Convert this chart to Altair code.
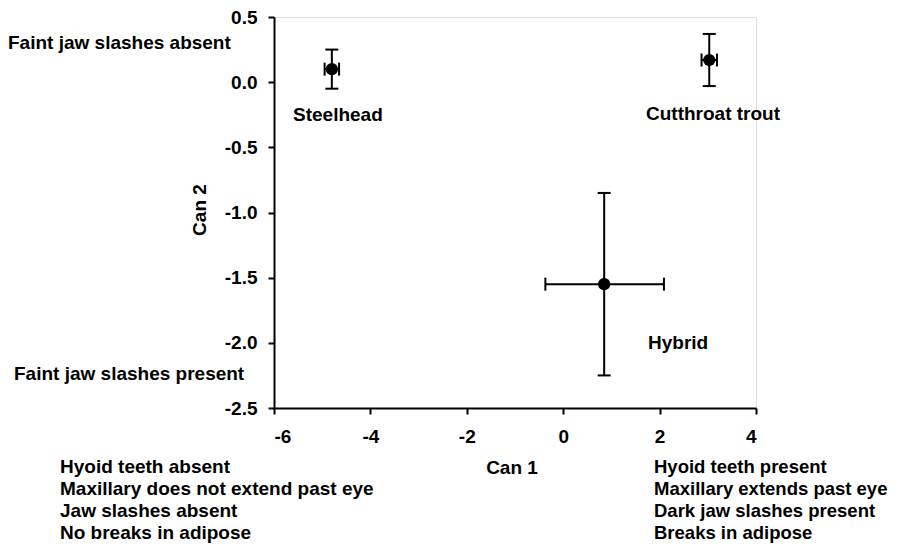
import altair as alt
import pandas as pd

# ---- data ----
groups = ["Steelhead", "Cutthroat trout", "Hybrid"]
can1_mean = [-4.80, 3.03, 0.85]
can1_lo = [-4.95, 2.87, -0.37]
can1_hi = [-4.65, 3.19, 2.09]
can2_mean = [0.10, 0.17, -1.55]
can2_lo = [-0.05, -0.03, -2.25]
can2_hi = [0.25, 0.37, -0.85]

x_ticks = [-6, -4, -2, 0, 2, 4]
y_ticks = [0.5, 0.0, -0.5, -1.0, -1.5, -2.0, -2.5]

left_notes = ["Hyoid teeth absent", "Maxillary does not extend past eye",
              "Jaw slashes absent", "No breaks in adipose"]
right_notes = ["Hyoid teeth present", "Maxillary extends past eye",
               "Dark jaw slashes present", "Breaks in adipose"]
top_note = "Faint jaw slashes absent"
bottom_note = "Faint jaw slashes present"

df = pd.DataFrame({
    "group": groups,
    "can1": can1_mean, "can1_lo": can1_lo, "can1_hi": can1_hi,
    "can2": can2_mean, "can2_lo": can2_lo, "can2_hi": can2_hi,
})

FONT = "Liberation Sans"
FS = 19
MINUS_FIX = "replace(datum.label, '\u2212', '-')"

xs = alt.Scale(domain=[-6, 4], nice=False, zero=False)
ys = alt.Scale(domain=[-2.5, 0.5], nice=False, zero=False)

xax = alt.Axis(values=x_ticks, format="d", labelExpr=MINUS_FIX, title=None, grid=False,
               domainColor="black", domainWidth=2, tickColor="black",
               tickWidth=2, tickSize=6, labelPadding=13, labelColor="black",
               labelFont=FONT, labelFontSize=FS, labelFontWeight="bold")
yax = alt.Axis(values=y_ticks, format=".1f", labelExpr=MINUS_FIX, title=None, grid=False,
               domainColor="black", domainWidth=2, tickColor="black",
               tickWidth=2, tickSize=6, labelPadding=11, labelColor="black",
               labelFont=FONT, labelFontSize=FS, labelFontWeight="bold")

base = alt.Chart(df)

points = base.mark_circle(size=150, color="black", opacity=1).encode(
    x=alt.X("can1:Q", scale=xs, axis=xax),
    y=alt.Y("can2:Q", scale=ys, axis=yax),
)
vbar = base.mark_rule(color="black", strokeWidth=2).encode(
    x=alt.X("can1:Q", scale=xs), y=alt.Y("can2_lo:Q", scale=ys), y2="can2_hi:Q")
hbar = base.mark_rule(color="black", strokeWidth=2).encode(
    y=alt.Y("can2:Q", scale=ys), x=alt.X("can1_lo:Q", scale=xs), x2="can1_hi:Q")
cap_lo = base.mark_tick(orient="horizontal", color="black", thickness=2, size=13, opacity=1).encode(
    x=alt.X("can1:Q", scale=xs), y=alt.Y("can2_lo:Q", scale=ys))
cap_hi = base.mark_tick(orient="horizontal", color="black", thickness=2, size=13, opacity=1).encode(
    x=alt.X("can1:Q", scale=xs), y=alt.Y("can2_hi:Q", scale=ys))
cap_l = base.mark_tick(orient="vertical", color="black", thickness=2, size=13, opacity=1).encode(
    x=alt.X("can1_lo:Q", scale=xs), y=alt.Y("can2:Q", scale=ys))
cap_r = base.mark_tick(orient="vertical", color="black", thickness=2, size=13, opacity=1).encode(
    x=alt.X("can1_hi:Q", scale=xs), y=alt.Y("can2:Q", scale=ys))

def txt(text, x, y, align="left", angle=0, baseline="alphabetic", lh=22, fs=FS):
    kw = dict(font=FONT, fontSize=fs, fontWeight="bold", color="black",
              align=align, baseline=baseline, lineHeight=lh)
    if angle:
        kw["angle"] = angle
    return alt.Chart(df).transform_filter("datum.group == 'Hybrid'").mark_text(**kw).encode(
        x=alt.value(x), y=alt.value(y), text=alt.value(text))

labels = [
    txt(groups[0], 19, 104),
    txt(groups[1], 372, 103),
    txt(groups[2], 374, 332),
    txt(top_note, -266, 32),
    txt(bottom_note, -260, 363),
    txt("Can 1", 238, 457, align="center"),
    txt("Can 2", -74, 193, align="center", angle=270, baseline="middle"),
    txt(left_notes, -214, 456),
    txt(right_notes, 380, 456, fs=18.5),
]

chart = alt.layer(vbar, hbar, cap_lo, cap_hi, cap_l, cap_r, points, *labels).properties(
    width=482, height=391,
    autosize=alt.AutoSizeParams(type="none"),
    padding={"left": 266, "top": 9, "right": 139, "bottom": 135},
).configure_view(stroke=None).configure(background="white")

chart.save("out.html", embed_options={"renderer": "svg", "actions": False})
